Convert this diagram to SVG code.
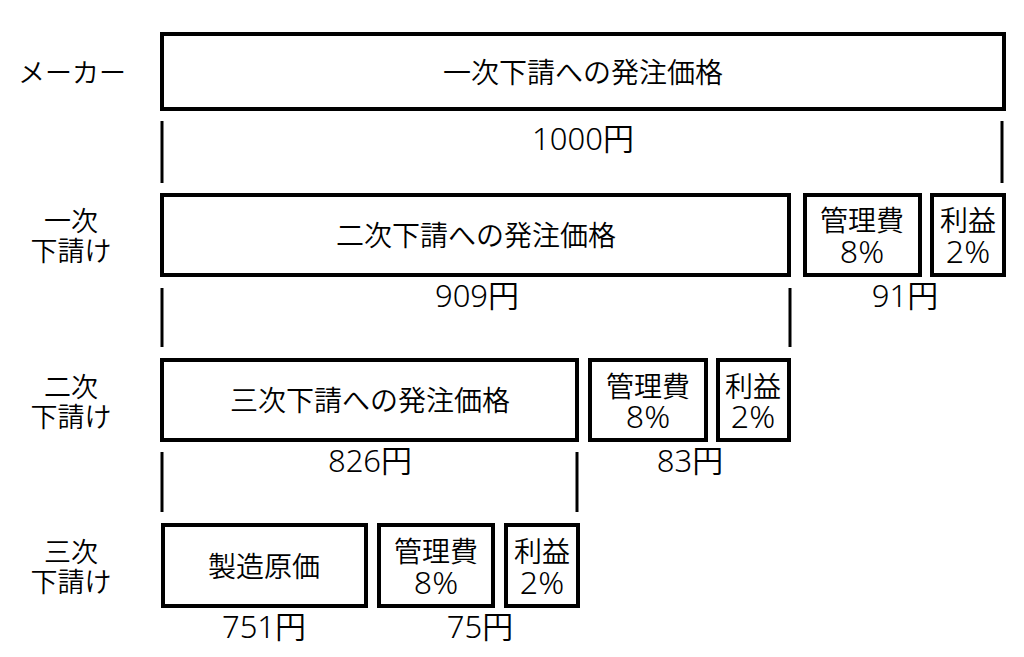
<svg xmlns="http://www.w3.org/2000/svg" width="1024" height="657" viewBox="0 0 1024 657">
<style>
.box{fill:#fff;stroke:#000;stroke-width:4}
.br{stroke:#000;stroke-width:3;fill:none}
text{font-family:"Noto Sans CJK JP","Noto Sans",sans-serif;fill:#000;text-anchor:middle;font-weight:350}
.t{font-size:28px}
.l{font-size:27px}
.n{font-size:31px;font-family:"Noto Sans","Noto Sans CJK JP",sans-serif}
.p{font-size:32px;font-family:"Noto Sans","Noto Sans CJK JP",sans-serif}
</style>
<rect width="1024" height="657" fill="#fff"/>
<g id="labels">
<text class="l" x="72" y="83">メーカー</text>
<text class="l" x="71" y="231">一次</text>
<text class="l" x="71" y="261">下請け</text>
<text class="l" x="71" y="397">二次</text>
<text class="l" x="71" y="427">下請け</text>
<text class="l" x="71" y="562">三次</text>
<text class="l" x="71" y="592">下請け</text>
</g>
<g id="connectors">
<line class="br" x1="162" y1="121" x2="162" y2="183"/>
<line class="br" x1="1002" y1="121" x2="1002" y2="183"/>
<line class="br" x1="162" y1="288" x2="162" y2="347"/>
<line class="br" x1="790" y1="288" x2="790" y2="347"/>
<line class="br" x1="162" y1="452" x2="162" y2="512"/>
<line class="br" x1="577" y1="452" x2="577" y2="512"/>
</g>
<g id="n1">
<rect class="box" x="162" y="34" width="842" height="75"/>
<text class="t" x="583" y="83">一次下請への発注価格</text>
<text class="n" x="583" y="150">1000円</text>
</g>
<g id="n2">
<rect class="box" x="162" y="195" width="627" height="80"/>
<text class="t" x="476" y="246">二次下請への発注価格</text>
<text class="n" x="477" y="307">909円</text>
</g>
<g id="n2m">
<rect class="box" x="805" y="195" width="115" height="80"/>
<text class="t" x="862" y="231">管理費</text>
<text class="p" x="862" y="263">8%</text>
</g>
<g id="n2p">
<rect class="box" x="932" y="195" width="72" height="80"/>
<text class="t" x="968" y="231">利益</text>
<text class="p" x="968" y="263">2%</text>
<text class="n" x="905" y="307">91円</text>
</g>
<g id="n3">
<rect class="box" x="162" y="360" width="415" height="80"/>
<text class="t" x="370" y="411">三次下請への発注価格</text>
<text class="n" x="370" y="472">826円</text>
</g>
<g id="n3m">
<rect class="box" x="590" y="360" width="116" height="80"/>
<text class="t" x="648" y="397">管理費</text>
<text class="p" x="648" y="428">8%</text>
</g>
<g id="n3p">
<rect class="box" x="718" y="360" width="71" height="80"/>
<text class="t" x="753" y="397">利益</text>
<text class="p" x="753" y="428">2%</text>
<text class="n" x="690" y="472">83円</text>
</g>
<g id="n4">
<rect class="box" x="163" y="525" width="203" height="81"/>
<text class="t" x="264" y="577">製造原価</text>
<text class="n" x="264" y="638">751円</text>
</g>
<g id="n4m">
<rect class="box" x="379" y="525" width="114" height="81"/>
<text class="t" x="436" y="562">管理費</text>
<text class="p" x="436" y="594">8%</text>
</g>
<g id="n4p">
<rect class="box" x="506" y="525" width="72" height="81"/>
<text class="t" x="542" y="562">利益</text>
<text class="p" x="542" y="594">2%</text>
<text class="n" x="480" y="638">75円</text>
</g>
</svg>
